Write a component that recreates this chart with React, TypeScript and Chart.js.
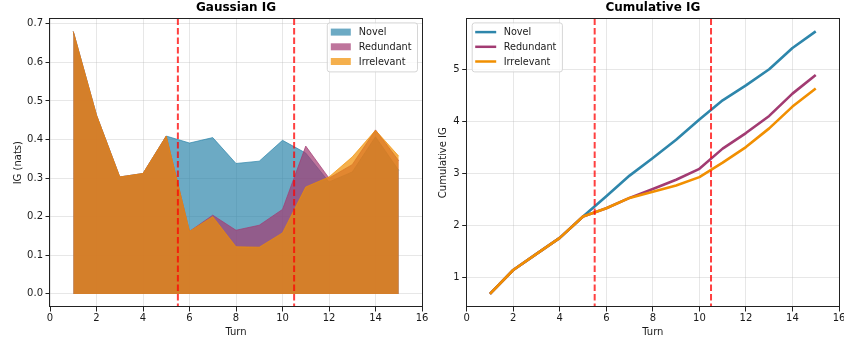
import React, { useEffect, useRef } from "react";
import { Chart, registerables } from "chart.js";

Chart.register(...registerables);

// ---------------- data ----------------
const turns = [1, 2, 3, 4, 5, 6, 7, 8, 9, 10, 11, 12, 13, 14, 15];
const seriesLabels = ["Novel", "Redundant", "Irrelevant"];
const seriesColors = ["46,134,171", "162,59,114", "241,143,1"];

const novelIG = [0.68, 0.463, 0.303, 0.312, 0.409, 0.391, 0.405, 0.338, 0.344, 0.398, 0.365, 0.29, 0.316, 0.407, 0.32];
const redundantIG = [0.68, 0.463, 0.303, 0.312, 0.409, 0.162, 0.204, 0.165, 0.178, 0.219, 0.383, 0.3, 0.335, 0.425, 0.345];
const irrelevantIG = [0.68, 0.463, 0.303, 0.312, 0.409, 0.162, 0.2, 0.122, 0.121, 0.158, 0.277, 0.303, 0.355, 0.424, 0.357];

const novelCum = [0.68, 1.14, 1.45, 1.76, 2.17, 2.56, 2.96, 3.3, 3.65, 4.04, 4.41, 4.7, 5.01, 5.42, 5.74];
const redundantCum = [0.68, 1.14, 1.45, 1.76, 2.17, 2.33, 2.53, 2.7, 2.88, 3.09, 3.48, 3.78, 4.11, 4.54, 4.9];
const irrelevantCum = [0.68, 1.14, 1.45, 1.76, 2.17, 2.33, 2.53, 2.65, 2.77, 2.93, 3.21, 3.51, 3.87, 4.29, 4.64];

const phaseBoundaries = [5.5, 10.5];

const xTicks = [0, 2, 4, 6, 8, 10, 12, 14, 16];
const igTicks = [0.0, 0.1, 0.2, 0.3, 0.4, 0.5, 0.6, 0.7];
const cumTicks = [1, 2, 3, 4, 5];

// ---------------- style ----------------
const FONT = "'DejaVu Sans', 'Liberation Sans', sans-serif";
const TEXT = "#1a1a1a";
const GRID = "rgba(176,176,176,0.3)";

function roundRect(ctx: CanvasRenderingContext2D, x: number, y: number, w: number, h: number, r: number) {
  ctx.beginPath();
  ctx.moveTo(x + r, y);
  ctx.lineTo(x + w - r, y);
  ctx.arcTo(x + w, y, x + w, y + r, r);
  ctx.lineTo(x + w, y + h - r);
  ctx.arcTo(x + w, y + h, x + w - r, y + h, r);
  ctx.lineTo(x + r, y + h);
  ctx.arcTo(x, y + h, x, y + h - r, r);
  ctx.lineTo(x, y + r);
  ctx.arcTo(x, y, x + r, y, r);
  ctx.closePath();
}

const decorPlugin = {
  id: "decor",
  afterDatasetsDraw(chart: any) {
    const ctx: CanvasRenderingContext2D = chart.ctx;
    const ca = chart.chartArea;
    const xs = chart.scales.x;
    ctx.save();
    ctx.strokeStyle = "rgba(255,0,0,0.75)";
    ctx.lineWidth = 2;
    ctx.setLineDash([6.5, 3]);
    for (const v of phaseBoundaries) {
      const px = xs.getPixelForValue(v);
      ctx.beginPath();
      ctx.moveTo(px, ca.top);
      ctx.lineTo(px, ca.bottom);
      ctx.stroke();
    }
    ctx.restore();
  },
  afterDraw(chart: any, _args: any, opts: any) {
    const ctx: CanvasRenderingContext2D = chart.ctx;
    const ca = chart.chartArea;
    ctx.save();
    // spines
    ctx.strokeStyle = "#222";
    ctx.lineWidth = 1;
    ctx.strokeRect(Math.round(ca.left) - 0.5, Math.round(ca.top) + 0.5, Math.round(ca.right) - Math.round(ca.left) + 1, Math.round(ca.bottom) - Math.round(ca.top) - 1);
    // legend
    ctx.font = `9.7px ${FONT}`;
    const textW = Math.max(...seriesLabels.map((l) => ctx.measureText(l).width));
    const w = 32 + textW + 5.5;
    const h = 49;
    const x0 = opts.anchor === "right" ? ca.right - 5 - w : ca.left + 5;
    const y0 = ca.top + 4;
    roundRect(ctx, x0 + 0.5, y0 + 0.5, w, h, 2.5);
    ctx.fillStyle = "rgba(255,255,255,0.8)";
    ctx.fill();
    ctx.strokeStyle = "rgba(204,204,204,0.8)";
    ctx.lineWidth = 1;
    ctx.stroke();
    seriesLabels.forEach((label, i) => {
      const cy = y0 + 9.7 + i * 14.7;
      if (opts.kind === "patch") {
        ctx.fillStyle = `rgba(${seriesColors[i]},0.7)`;
        ctx.fillRect(x0 + 4, cy - 3.5, 20, 7);
      } else {
        ctx.strokeStyle = `rgb(${seriesColors[i]})`;
        ctx.lineWidth = 2.5;
        ctx.beginPath();
        ctx.moveTo(x0 + 3.5, cy);
        ctx.lineTo(x0 + 24.5, cy);
        ctx.stroke();
      }
      ctx.fillStyle = TEXT;
      ctx.textBaseline = "middle";
      ctx.textAlign = "left";
      ctx.fillText(label, x0 + 32, cy + 0.5);
    });
    ctx.restore();
  },
};

function buildOptions(cfg: {
  title: string;
  yTitle: string;
  yTitlePad: number;
  yWidth: number;
  yMin: number;
  yMax: number;
  yTicks: number[];
  yFmt: (v: number) => string;
  rightPad: number;
  legendAnchor: string;
  legendKind: string;
}) {
  const tickFont = { family: FONT, size: 10, lineHeight: 1.2 };
  return {
    animation: false,
    responsive: false,
    maintainAspectRatio: false,
    layout: { padding: { left: 0, right: cfg.rightPad, top: 0, bottom: 0 } },
    elements: { point: { radius: 0, hoverRadius: 0 }, line: { tension: 0 } },
    plugins: {
      legend: { display: false },
      tooltip: { enabled: false },
      title: {
        display: true,
        text: cfg.title,
        fullSize: false,
        color: "#000",
        font: { family: FONT, size: 12, weight: "bold", lineHeight: 1.2 },
        padding: { top: 1, bottom: 3 },
      },
      decor: { anchor: cfg.legendAnchor, kind: cfg.legendKind },
    },
    scales: {
      x: {
        type: "linear",
        min: 0,
        max: 16,
        afterBuildTicks: (s: any) => {
          s.ticks = xTicks.map((v) => ({ value: v }));
        },
        afterFit: (s: any) => {
          s.height = 34;
        },
        grid: { color: GRID, tickColor: "#222", tickLength: 4.5, drawTicks: true },
        border: { display: false },
        ticks: {
          font: tickFont,
          color: TEXT,
          padding: 1,
          maxRotation: 0,
          autoSkip: false,
          callback: (v: any) => String(v),
        },
        title: {
          display: true,
          text: "Turn",
          color: TEXT,
          font: tickFont,
          padding: { top: 0, bottom: 2.7 },
        },
      },
      y: {
        type: "linear",
        min: cfg.yMin,
        max: cfg.yMax,
        afterBuildTicks: (s: any) => {
          s.ticks = cfg.yTicks.map((v) => ({ value: v }));
        },
        afterFit: (s: any) => {
          s.width = cfg.yWidth;
        },
        grid: { color: GRID, tickColor: "#222", tickLength: 4.5, drawTicks: true },
        border: { display: false },
        ticks: {
          font: tickFont,
          color: TEXT,
          padding: 2.5,
          autoSkip: false,
          callback: (v: any) => cfg.yFmt(Number(v)),
        },
        title: {
          display: true,
          text: cfg.yTitle,
          color: TEXT,
          font: tickFont,
          padding: { top: cfg.yTitlePad, bottom: 0 },
        },
      },
    },
  };
}

function toPoints(arr: number[]) {
  return turns.map((t, i) => ({ x: t, y: arr[i] }));
}

export default function App() {
  const leftRef = useRef<HTMLCanvasElement>(null);
  const rightRef = useRef<HTMLCanvasElement>(null);

  useEffect(() => {
    document.body.style.overflow = "hidden";
    const igSeries = [novelIG, redundantIG, irrelevantIG];
    const cumSeries = [novelCum, redundantCum, irrelevantCum];
    const orders = [3, 2, 1];

    const left = new Chart(leftRef.current as HTMLCanvasElement, {
      type: "line",
      data: {
        datasets: igSeries.map((arr, i) => ({
          label: seriesLabels[i],
          data: toPoints(arr),
          fill: "origin",
          backgroundColor: `rgba(${seriesColors[i]},0.7)`,
          borderColor: `rgba(${seriesColors[i]},0.7)`,
          borderWidth: 1,
          pointRadius: 0,
          order: orders[i],
        })),
      },
      options: buildOptions({
        title: "Gaussian IG",
        yTitle: "IG (nats)",
        yTitlePad: 12.3,
        yWidth: 50,
        yMin: -0.034,
        yMax: 0.714,
        yTicks: igTicks,
        yFmt: (v) => v.toFixed(1),
        rightPad: 8,
        legendAnchor: "right",
        legendKind: "patch",
      }) as any,
      plugins: [decorPlugin],
    });

    const right = new Chart(rightRef.current as HTMLCanvasElement, {
      type: "line",
      data: {
        datasets: cumSeries.map((arr, i) => ({
          label: seriesLabels[i],
          data: toPoints(arr),
          fill: false,
          borderColor: `rgb(${seriesColors[i]})`,
          borderWidth: 2.6,
          borderJoinStyle: "round",
          pointRadius: 0,
          order: orders[i],
        })),
      },
      options: buildOptions({
        title: "Cumulative IG",
        yTitle: "Cumulative IG",
        yTitlePad: 7.3,
        yWidth: 36.7,
        yMin: 0.427,
        yMax: 5.99,
        yTicks: cumTicks,
        yFmt: (v) => String(v),
        rightPad: 11,
        legendAnchor: "left",
        legendKind: "line",
      }) as any,
      plugins: [decorPlugin],
    });

    return () => {
      left.destroy();
      right.destroy();
    };
  }, []);

  return (
    <div style={{ position: "fixed", left: 0, top: 0, width: 844, height: 341, overflow: "hidden", background: "#fff" }}>
      <canvas ref={leftRef} width={430} height={341} style={{ position: "absolute", left: 0, top: 0 }} />
      <canvas ref={rightRef} width={420} height={341} style={{ position: "absolute", left: 430, top: 0 }} />
    </div>
  );
}
